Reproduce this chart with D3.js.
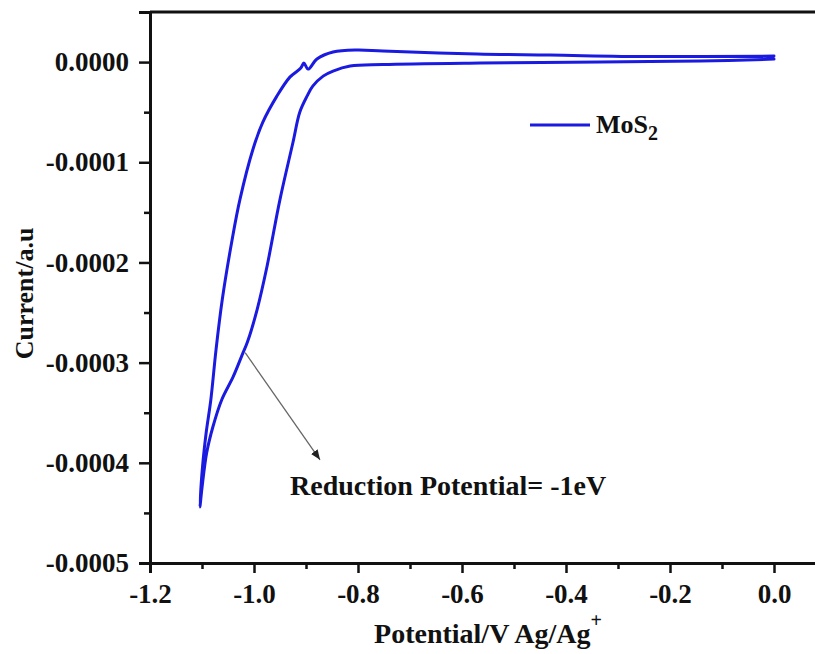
<!DOCTYPE html>
<html>
<head>
<meta charset="utf-8">
<script src="https://cdn.jsdelivr.net/npm/d3@7"></script>
<style>
    body { margin: 0; background: #fff; }
    svg { display: block; }
    text { font-family: "Liberation Serif", "Times New Roman", serif; font-weight: bold; fill: #111; }
</style>
</head>
<body>
<div id="wrapper"></div>
<script>

// cathodic scan, 0 V -> -1.1 V
var forwardV = [0.000, -0.142, -0.335, -0.565, -0.752, -0.815, -0.848, -0.867, -0.887, -0.898, -0.912, -0.925,
    -0.950, -0.975, -0.994, -1.013, -1.021, -1.040, -1.062, -1.079, -1.091, -1.100, -1.104];
var forwardI = [0.000003, 0.000001, 0.0, -0.000001, -0.0000025, -0.000004, -0.000009, -0.000014, -0.000024, -0.000034,
    -0.000050, -0.000080, -0.000137, -0.000204, -0.000247, -0.000280, -0.000290, -0.000314, -0.000337, -0.000364,
    -0.000390, -0.000425, -0.000444];

// return scan, -1.1 V -> 0 V
var reverseV = [-1.104, -1.099, -1.092, -1.083, -1.073, -1.061, -1.042, -1.027, -1.002, -0.983, -0.956, -0.931,
    -0.910, -0.904, -0.896, -0.879, -0.848, -0.802, -0.752, -0.571, -0.431, -0.238, 0.000];
var reverseI = [-0.000444, -0.000404, -0.000370, -0.000337, -0.000287, -0.000237, -0.000177, -0.000137, -0.000087,
    -0.000060, -0.000034, -0.000015, -0.000006, -0.000001, -0.000007, 0.000003, 0.000010, 0.000012, 0.000011,
    0.000008, 0.000007, 0.0000055, 0.000006];

var xTicks = [-1.2, -1.0, -0.8, -0.6, -0.4, -0.2, 0.0];
var xMinorTicks = [-1.1, -0.9, -0.7, -0.5, -0.3, -0.1];
var yTicks = [0, -0.0001, -0.0002, -0.0003, -0.0004, -0.0005];
var yMinorTicks = [-0.00005, -0.00015, -0.00025, -0.00035, -0.00045];

var seriesName = "MoS";
var seriesSub = "2";
var xTitle = "Potential/V Ag/Ag";
var yTitle = "Current/a.u";
var noteText = "Reduction Potential= -1eV";
// arrow from the shoulder on the curve to the label
var noteFrom = [-1.017, -0.000290];
var noteTo = [-0.873, -0.000397];

function draw() {

    var width = 815, height = 654;
    var margin = { top: 12, right: -11, bottom: 91, left: 150 };
    var blue = "#1a1ae0";

    var svg = d3.select("#wrapper").append("svg")
        .attr("width", width)
        .attr("height", height);

    svg.append("rect").attr("width", width).attr("height", height).attr("fill", "#fff");

    var x = d3.scaleLinear()
        .domain([-1.2, 0.1])
        .range([margin.left, width - margin.right]);

    var y = d3.scaleLinear()
        .domain([-0.0005, 0.00005])
        .range([height - margin.bottom, margin.top]);

    var xAxis = d3.axisBottom(x)
        .tickValues(xTicks)
        .tickSize(10)
        .tickPadding(11)
        .tickFormat(function(d) { return d.toFixed(1); });

    var xMinor = d3.axisBottom(x).tickValues(xMinorTicks).tickSize(6).tickFormat("");

    var yAxis = d3.axisLeft(y)
        .tickValues(yTicks)
        .tickSize(11)
        .tickPadding(10)
        .tickFormat(function(d) { return d.toFixed(4); });

    var yMinor = d3.axisLeft(y).tickValues(yMinorTicks).tickSize(6).tickFormat("");

    function styleAxis(g) {
        g.select(".domain").attr("stroke", "#111").attr("stroke-width", 3);
        g.selectAll(".tick line").attr("stroke", "#111").attr("stroke-width", 2.5);
        g.selectAll(".tick text")
            .attr("font-size", 27)
            .attr("font-family", "Liberation Serif")
            .attr("font-weight", "bold")
            .attr("fill", "#111");
    }

    // frame top + right
    svg.append("path")
        .attr("d", "M" + x(-1.2) + "," + y(0.00005) + "H" + x(0.1) + "V" + y(-0.0005))
        .attr("fill", "none")
        .attr("stroke", "#111")
        .attr("stroke-width", 3);

    svg.append("g")
        .attr("transform", "translate(0," + y(-0.0005) + ")")
        .call(xMinor).call(styleAxis);
    svg.append("g")
        .attr("transform", "translate(0," + y(-0.0005) + ")")
        .call(xAxis).call(styleAxis);

    svg.append("g")
        .attr("transform", "translate(" + x(-1.2) + ",0)")
        .call(yMinor).call(styleAxis);
    svg.append("g")
        .attr("transform", "translate(" + x(-1.2) + ",0)")
        .call(yAxis).call(styleAxis);

    /*** the CV loop ***/
    var loop = forwardV.map(function(v, i) { return [v, forwardI[i]]; })
        .concat(reverseV.slice(1).map(function(v, i) { return [v, reverseI[i + 1]]; }));

    var line = d3.line()
        .x(function(d) { return x(d[0]); })
        .y(function(d) { return y(d[1]); })
        .curve(d3.curveCatmullRom.alpha(0.5));

    svg.append("path")
        .datum(loop)
        .attr("d", line)
        .attr("fill", "none")
        .attr("stroke", blue)
        .attr("stroke-width", 3)
        .attr("stroke-linejoin", "round")
        .attr("stroke-linecap", "round");

    // legend
    svg.append("line")
        .attr("x1", 530).attr("x2", 590)
        .attr("y1", 125).attr("y2", 125)
        .attr("stroke", blue)
        .attr("stroke-width", 3);

    var leg = svg.append("text")
        .attr("x", 596)
        .attr("y", 133)
        .attr("font-size", 26);
    leg.append("tspan").text(seriesName);
    leg.append("tspan").attr("font-size", 20).attr("dy", 7).text(seriesSub);

    // annotation arrow
    svg.append("defs").append("marker")
        .attr("id", "arrow")
        .attr("viewBox", "0 0 10 10")
        .attr("refX", 10).attr("refY", 5)
        .attr("markerWidth", 10).attr("markerHeight", 10)
        .attr("markerUnits", "userSpaceOnUse")
        .attr("orient", "auto")
        .append("path")
        .attr("d", "M0,1L10,5L0,9Z")
        .attr("fill", "#222");

    svg.append("line")
        .attr("x1", x(noteFrom[0])).attr("y1", y(noteFrom[1]))
        .attr("x2", x(noteTo[0])).attr("y2", y(noteTo[1]))
        .attr("stroke", "#666")
        .attr("stroke-width", 1.3)
        .attr("marker-end", "url(#arrow)");

    svg.append("text")
        .attr("x", 290)
        .attr("y", 495)
        .attr("font-size", 28)
        .text(noteText);

    // axis titles
    var xt = svg.append("text")
        .attr("x", (x(-1.2) + x(0.1)) / 2)
        .attr("y", 643)
        .attr("text-anchor", "middle")
        .attr("font-size", 28);
    xt.append("tspan").text(xTitle);
    xt.append("tspan").attr("font-size", 20).attr("dy", -16).text("+");

    svg.append("text")
        .attr("transform", "translate(33," + ((y(0.00005) + y(-0.0005)) / 2 + 6) + ") rotate(-90)")
        .attr("text-anchor", "middle")
        .attr("font-size", 26)
        .text(yTitle);
}

draw();
</script>
</body>
</html>
